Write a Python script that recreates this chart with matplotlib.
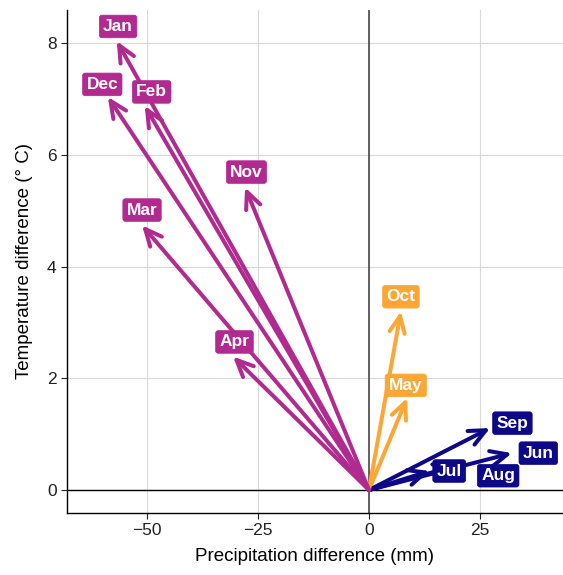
import matplotlib
matplotlib.use("Agg")
import matplotlib.pyplot as plt

plt.rcParams['font.family'] = ['Liberation Sans', 'DejaVu Sans']

months = ["Jan", "Feb", "Mar", "Apr", "May", "Jun", "Jul", "Aug", "Sep", "Oct", "Nov", "Dec"]
precip_diff = [-56.8, -50.5, -51.1, -30.6, 8.6, 32.2, 13.7, 19.4, 27.3, 7.2, -27.9, -58.8]
temp_diff = [8.04, 6.88, 4.74, 2.39, 1.65, 0.66, 0.34, 0.43, 1.11, 3.20, 5.42, 7.04]
group = ["cold", "cold", "cold", "cold", "mid", "warm", "warm", "warm", "warm", "mid", "cold", "cold"]

colors = {"cold": "#B12A90", "mid": "#FCA636", "warm": "#0D0887"}
# label offsets in points (dx, dy) relative to arrow tip
label_offsets = {
    "Jan": (1, 10.5), "Feb": (5, 10), "Mar": (0, 11), "Apr": (1, 10.5),
    "May": (-1, 9), "Jun": (19, 0), "Jul": (14, 0), "Aug": (31, -7),
    "Sep": (16, 3.5), "Oct": (0, 10.5), "Nov": (1, 11), "Dec": (-4, 9),
}

fig = plt.figure(figsize=(5.63, 5.75), dpi=100)
ax = fig.add_axes([0.119, 0.108, 0.881, 0.875])

ax.set_xlim(-68, 43.7)
ax.set_ylim(-0.41, 8.6)
ax.set_xticks([-50, -25, 0, 25])
ax.set_yticks([0, 2, 4, 6, 8])
ax.grid(True, color="#D9D9D9", lw=0.8)
ax.set_axisbelow(True)
ax.axhline(0, color="black", lw=1.0, zorder=1)
ax.axvline(0, color="#555555", lw=1.3, zorder=1)

for sp in ["top", "right"]:
    ax.spines[sp].set_visible(False)
for sp in ["left", "bottom"]:
    ax.spines[sp].set_linewidth(1.0)
ax.tick_params(axis="both", labelsize=12.5, length=4, width=0.8, colors="#222222", labelcolor="#222222")

for m, x, y, g in zip(months, precip_diff, temp_diff, group):
    c = colors[g]
    ax.annotate("", xy=(x, y), xytext=(0, 0),
                arrowprops=dict(arrowstyle="->,head_length=1.2,head_width=0.55",
                                color=c, lw=2.9, shrinkA=0, shrinkB=0,
                                capstyle="round", joinstyle="round"),
                zorder=3)

for m, x, y, g in zip(months, precip_diff, temp_diff, group):
    c = colors[g]
    dx, dy = label_offsets[m]
    ax.annotate(m, xy=(x, y), xytext=(dx, dy), textcoords="offset points",
                ha="center", va="center", fontsize=12.5, fontweight="bold", color="white",
                bbox=dict(boxstyle="round,pad=0.22,rounding_size=0.15", fc=c, ec=c, lw=0.5),
                zorder=5)

ax.set_xlabel("Precipitation difference (mm)", fontsize=13.5, labelpad=7)
ax.set_ylabel("Temperature difference (° C)", fontsize=13.5, labelpad=10)

fig.savefig("out.png", dpi=100)
